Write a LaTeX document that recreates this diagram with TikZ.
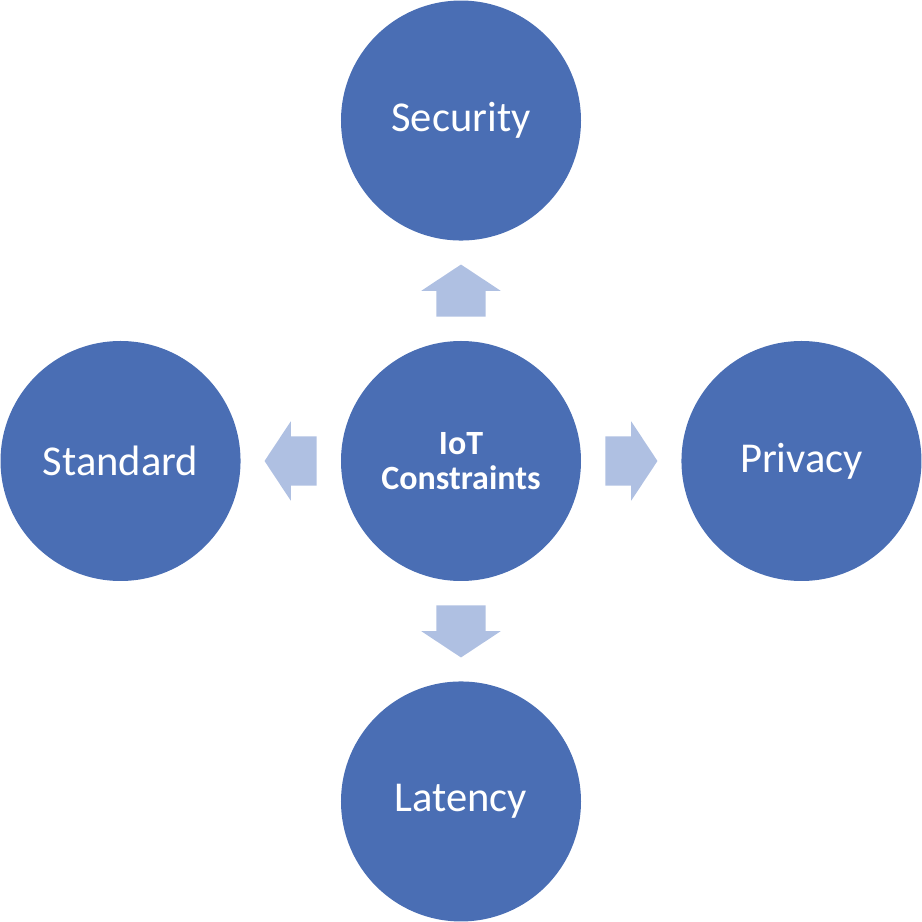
\documentclass[tikz,border=0pt]{standalone}
\usepackage{fontspec}
\setmainfont{Carlito}
\usetikzlibrary{positioning,shapes.arrows}
\definecolor{circblue}{HTML}{4A6EB4}
\definecolor{arrblue}{HTML}{AFC0E2}

\begin{document}
\begin{tikzpicture}[node distance=3cm,
    topic/.style={circle,fill=circblue,text=white,minimum size=7.2cm,inner sep=0pt,font=\fontsize{36.3}{43}\selectfont},
    push/.style={single arrow,fill=arrblue,inner sep=0pt,inner ysep=0.735cm,single arrow head extend=0.45cm,single arrow tip angle=113,minimum height=1.56cm,pos=0.24,anchor=tail,sloped,allow upside down}]

    \useasboundingbox (-13.83,-13.83) rectangle (13.83,13.83);

    \node [topic,align=center,font=\fontsize{29}{30}\selectfont\bfseries] (iot) {IoT\\Constraints};
    \node [topic,above=of iot] (sec) {Security};
    \node [topic,right=of iot] (priv) {Privacy};
    \node [topic,below=of iot] (lat) {Latency};
    \node [topic,left=of iot] (std) {Standard};

    \path (iot) -- (sec) node[push] {};
    \path (iot) -- (priv) node[push] {};
    \path (iot) -- (lat) node[push] {};
    \path (iot) -- (std) node[push] {};

\end{tikzpicture}
\end{document}
